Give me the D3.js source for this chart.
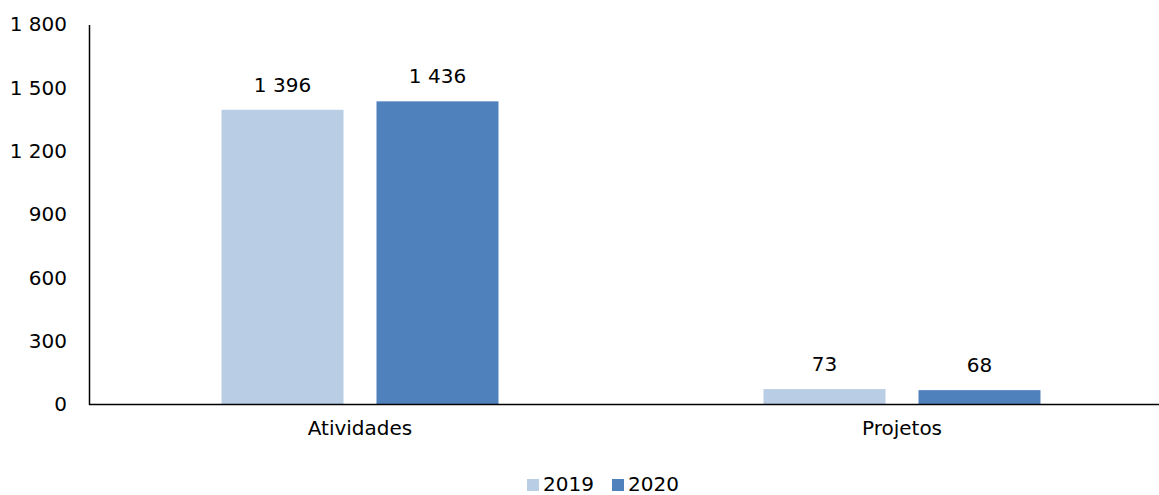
<!DOCTYPE html>
<html>
<head>
<meta charset="utf-8">
<script src="https://cdn.jsdelivr.net/npm/d3@7"></script>
<style>
  html, body { margin: 0; padding: 0; background: #fff; }
  svg { display: block; font-family: "DejaVu Sans", sans-serif; }
</style>
</head>
<body>
<svg id="chart" width="1159" height="495"></svg>
<script>
// Categories, series and axis ticks
const categories = ["Atividades", "Projetos"];
const seriesNames = ["2019", "2020"];
const values2019 = [1396, 73];
const values2020 = [1436, 68];
const yTicks = [0, 300, 600, 900, 1200, 1500, 1800];
const colors = ["#b9cde5", "#4f81bd"];

const series = [values2019, values2020];
const fmt = v => d3.format(",")(v).replace(/,/g, " ");

const svg = d3.select("#chart");
const W = 1159, H = 495;
const plotLeft = 89, plotRight = 1173, plotTop = 24.5, plotBottom = 404.5;
const fontSize = 20;

const x = d3.scaleBand().domain(categories).range([plotLeft, plotRight]).paddingInner(0).paddingOuter(0);
const groupWidth = x.bandwidth() * 0.511;
const xs = d3.scaleBand().domain(seriesNames).range([0, groupWidth]).paddingInner(0.213);
const y = d3.scaleLinear().domain([0, 1800]).range([plotBottom, plotTop]);

// Bars
const groups = svg.append("g").selectAll("g")
  .data(categories)
  .join("g")
  .attr("transform", d => `translate(${x(d) + (x.bandwidth() - groupWidth) / 2},0)`);

groups.selectAll("rect")
  .data((c, i) => seriesNames.map((s, j) => ({ s, v: series[j][i], j })))
  .join("rect")
  .attr("x", d => xs(d.s))
  .attr("width", xs.bandwidth())
  .attr("y", d => y(d.v))
  .attr("height", d => y(0) - y(d.v))
  .attr("fill", d => colors[d.j]);

// Value labels above the bars
groups.selectAll("text")
  .data((c, i) => seriesNames.map((s, j) => ({ s, v: series[j][i], j })))
  .join("text")
  .attr("x", d => xs(d.s) + xs.bandwidth() / 2)
  .attr("y", d => y(d.v) - 18)
  .attr("text-anchor", "middle")
  .attr("font-size", fontSize)
  .attr("fill", "#000")
  .text(d => fmt(d.v));

// Y axis
const yAxis = svg.append("g")
  .attr("transform", `translate(${plotLeft},0)`)
  .call(d3.axisLeft(y).tickValues(yTicks).tickSize(0).tickPadding(22).tickFormat(fmt));
yAxis.select(".domain").attr("stroke", "#000").attr("stroke-width", 1.5);
yAxis.selectAll("text").attr("font-size", fontSize).attr("font-family", "DejaVu Sans, sans-serif").attr("fill", "#000");

// X axis
const xAxis = svg.append("g")
  .attr("transform", `translate(0,${plotBottom})`)
  .call(d3.axisBottom(x).tickSize(0).tickPadding(16));
xAxis.select(".domain").attr("stroke", "#000").attr("stroke-width", 1.5).attr("d", `M${plotLeft},0H${W}`);
xAxis.selectAll("text").attr("font-size", fontSize).attr("font-family", "DejaVu Sans, sans-serif").attr("fill", "#000");

// Legend
const legend = svg.append("g").attr("transform", "translate(527,479)");
const legendItems = legend.selectAll("g")
  .data(seriesNames)
  .join("g")
  .attr("transform", (d, i) => `translate(${i * 85},0)`);
legendItems.append("rect")
  .attr("width", 12).attr("height", 12)
  .attr("fill", (d, i) => colors[i]);
legendItems.append("text")
  .attr("x", 16).attr("y", 12)
  .attr("font-size", fontSize)
  .attr("fill", "#000")
  .text(d => d);
</script>
</body>
</html>
